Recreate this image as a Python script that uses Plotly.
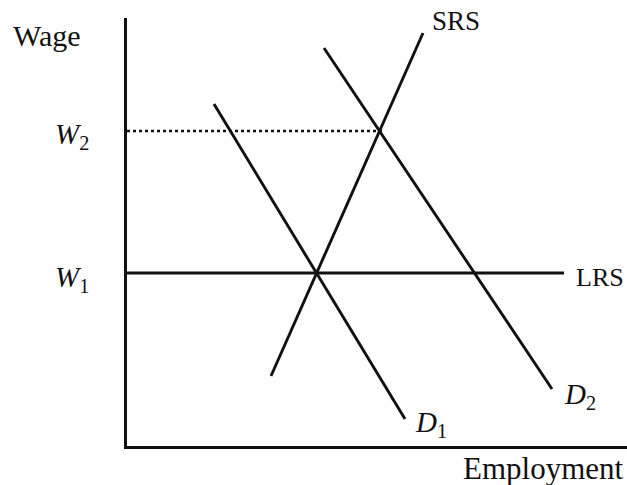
"""Labour market diagram: demand shift with short- and long-run supply."""

import plotly.graph_objects as go

# curve endpoints (employment, wage) in chart units
srs_employment = [144, 296]
srs_wage = [70, 413]
d1_employment = [87, 278]
d1_wage = [342, 27]
d2_employment = [197, 425]
d2_wage = [398, 57]
lrs_employment = [0, 437]
lrs_wage = [173, 173]
w2_employment = [0, 255]
w2_wage = [315, 315]

x_max = 500
y_max = 428

FONT = "Liberation Serif"
INK = "#111111"

fig = go.Figure()

for xs, ys in [(srs_employment, srs_wage), (d1_employment, d1_wage),
               (d2_employment, d2_wage), (lrs_employment, lrs_wage)]:
    fig.add_trace(go.Scatter(x=xs, y=ys, mode="lines",
                             line=dict(color=INK, width=2.9),
                             hoverinfo="skip", showlegend=False))

fig.add_trace(go.Scatter(x=w2_employment, y=w2_wage, mode="lines",
                         line=dict(color=INK, width=2.6, dash="dot"),
                         hoverinfo="skip", showlegend=False))

labels = [
    # text, x, y (chart units), xanchor, size
    ("Wage", -116, 410, "left", 30),
    ("<i>W</i><sub>2</sub>", -36, 310, "right", 29),
    ("<i>W</i><sub>1</sub>", -36, 167, "right", 29),
    ("SRS", 303, 425, "left", 27),
    ("LRS", 447, 169, "left", 26),
    ("<i>D</i><sub>1</sub>", 286, 22, "left", 29),
    ("<i>D</i><sub>2</sub>", 435, 50, "left", 29),
    ("Employment", x_max - 1, -22, "right", 31),
]
for text, x, y, xa, size in labels:
    fig.add_annotation(x=x / x_max, y=y / y_max, xref="paper", yref="paper",
                       text=text, showarrow=False,
                       xanchor=xa, yanchor="middle",
                       font=dict(family=FONT, size=size, color=INK))

fig.update_xaxes(range=[0, x_max], showline=True, linecolor=INK, linewidth=2.6,
                 showgrid=False, zeroline=False, showticklabels=False, ticks="")
fig.update_yaxes(range=[0, y_max], showline=True, linecolor=INK, linewidth=2.6,
                 showgrid=False, zeroline=False, showticklabels=False, ticks="")

fig.update_layout(
    width=627, height=485,
    margin=dict(l=127, r=0, t=18, b=39),
    plot_bgcolor="white", paper_bgcolor="white",
)

# drop the default page margin so the figure sits at the window's corner
fig.write_html(
    "out.html",
    config={"displayModeBar": False},
    post_script="document.body.style.margin='0';document.body.style.overflow='hidden';",
)
